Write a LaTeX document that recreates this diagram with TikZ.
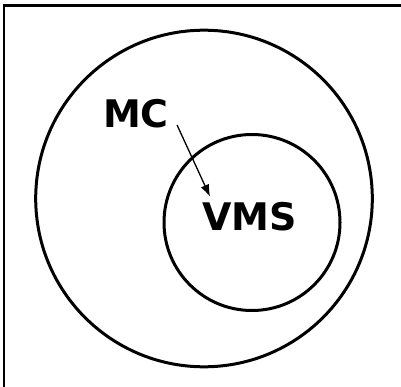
\documentclass[tikz,border=0pt]{standalone}
\usepackage{fontspec}
\setsansfont{DejaVu Sans}
\usetikzlibrary{arrows.meta}

\tikzset{
	ring/.style={line width=3pt},
	setname/.style={font=\sffamily\bfseries\fontsize{38}{40}\selectfont, inner sep=0pt, anchor=base},
}

\begin{document}
\begin{tikzpicture}[x=1pt,y=-1pt]
			\useasboundingbox (0,0) rectangle (401,387);
			\fill[white] (0,0) rectangle (401,387);
			
			% frame, top and left only
			\draw[line width=2.5pt] (4,387) -- (4,5.3) -- (401,5.3);
			
			\draw[ring] (204,198.5) circle[radius=168.3];
			\draw[ring] (252,222.5) circle[radius=88];
			
			\node[setname] (MC) at (136,128) {MC};
			\node[setname] (VMS) at (249.5,230) {VMS};
			
			\draw[line width=1.3pt, -{Latex[length=12pt,width=9pt]}] ([shift={(8,-3)}]MC.base east) -- ([shift={(8,-5)}]VMS.north west);

	\end{tikzpicture}
\end{document}
